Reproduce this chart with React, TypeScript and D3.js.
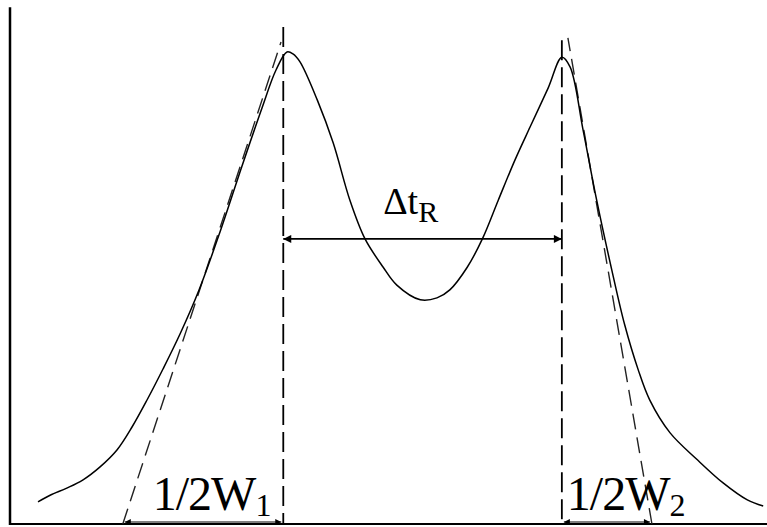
import React from "react";
import * as d3 from "d3";

// Chromatogram of two partially resolved peaks (arbitrary units)
const curveTime = [3.7, 5.3, 7.5, 9.6, 11.9, 14.13, 16.12, 18.1, 20.21, 22.46, 24.97, 27.74, 30.65, 33.29, 35.14, 36.59, 37.38, 38.31, 40.6, 42.7, 44.9, 46.9, 49.3, 51.1, 54.2, 56.4, 58.1, 60.4, 62.4, 64.5, 66.7, 68.7, 71.1, 72.9, 74.0, 75.7, 77.5, 79.5, 81.2, 83.0, 84.5, 87.2, 90.8, 94.2, 97.4, 99.5];
const curveSignal = [4.7, 6.1, 7.6, 9.3, 12.1, 15.68, 20.55, 26.27, 32.84, 40.25, 49.58, 61.86, 75.85, 88.14, 96.19, 100, 99.6, 97.9, 89.8, 80.7, 68.6, 60.4, 54.4, 50.6, 47.5, 47.9, 49.6, 54.4, 60.4, 68.6, 77.1, 84.1, 92.4, 98.9, 96.8, 83.5, 68.6, 53.8, 42.2, 32.6, 26.3, 19.3, 13.6, 8.7, 5.1, 3.8];

// Retention times and guide lines
const retentionTimes = [36.1, 72.9];
const retentionGuideTop = [105.3, 102.5];
// Tangent lines: baseline intercept time, apex time, apex signal
const tangentBase = [14.9, 84.8];
const tangentApexTime = [35.8, 73.7];
const tangentApexSignal = [102.1, 103];
const deltaArrowSignal = 60.4;
const halfWidthLabels = ["1", "2"];

const W = 767;
const H = 527;

export default function App() {
  const x = d3.scaleLinear().domain([0, 100]).range([10, 767]);
  const y = d3.scaleLinear().domain([0, 100]).range([524, 52]);

  const pts: [number, number][] = curveTime.map((t, i) => [t, curveSignal[i]]);
  const line = d3
    .line<[number, number]>()
    .x((d) => x(d[0]))
    .y((d) => y(d[1]))
    .curve(d3.curveCatmullRom.alpha(0.5));

  const serif = "Liberation Serif";

  return (
    <svg
      width={W}
      height={H}
      style={{ position: "absolute", left: 0, top: 0, background: "#fff" }}
    >
      <defs>
        <marker id="arrowEnd" viewBox="0 0 10 10" refX="10" refY="5" markerWidth="16" markerHeight="8" markerUnits="userSpaceOnUse" orient="auto">
          <path d="M0,0 L10,5 L0,10 z" fill="#000" />
        </marker>
        <marker id="arrowStart" viewBox="0 0 10 10" refX="0" refY="5" markerWidth="16" markerHeight="8" markerUnits="userSpaceOnUse" orient="auto">
          <path d="M10,0 L0,5 L10,10 z" fill="#000" />
        </marker>
        <marker id="smallEnd" viewBox="0 0 10 10" refX="10" refY="5" markerWidth="14" markerHeight="6" markerUnits="userSpaceOnUse" orient="auto">
          <path d="M0,0 L10,5 L0,10 z" fill="#000" />
        </marker>
        <marker id="smallStart" viewBox="0 0 10 10" refX="0" refY="5" markerWidth="14" markerHeight="6" markerUnits="userSpaceOnUse" orient="auto">
          <path d="M10,0 L0,5 L10,10 z" fill="#000" />
        </marker>
      </defs>

      {/* axes */}
      <line x1={x(0)} y1={y(109.5)} x2={x(0)} y2={y(0) + 1} stroke="#000" strokeWidth={2.5} />
      <line x1={x(0)} y1={y(0)} x2={x(100)} y2={y(0)} stroke="#000" strokeWidth={2} />

      {/* retention time guides */}
      {retentionTimes.map((t, i) => (
        <line key={"r" + i} x1={x(t)} y1={y(retentionGuideTop[i])} x2={x(t)} y2={y(0)} stroke="#000" strokeWidth={1.8} strokeDasharray="20,7" />
      ))}

      {/* tangents */}
      {tangentBase.map((t, i) => (
        <line key={"t" + i} x1={x(t)} y1={y(0)} x2={x(tangentApexTime[i])} y2={y(tangentApexSignal[i])} stroke="#222" strokeWidth={1.4} strokeDasharray="16,8" />
      ))}

      {/* chromatogram */}
      <path d={line(pts) ?? ""} fill="none" stroke="#000" strokeWidth={1.5} />

      {/* resolution arrow */}
      <line x1={x(retentionTimes[0])} y1={y(deltaArrowSignal)} x2={x(retentionTimes[1])} y2={y(deltaArrowSignal)} stroke="#000" strokeWidth={1.6} markerStart="url(#arrowStart)" markerEnd="url(#arrowEnd)" />
      <text x={x(49.3)} y={y(65.7)} fontFamily={serif} fontSize={38} fill="#000">
        Δt
        <tspan fontSize={30} dy={8}>R</tspan>
      </text>

      {/* half-width arrows and labels */}
      {halfWidthLabels.map((lab, i) => {
        const a = i === 0 ? x(tangentBase[0]) : x(retentionTimes[1]);
        const b = i === 0 ? x(retentionTimes[0]) : x(tangentBase[1]);
        return (
          <g key={"w" + i}>
            <line x1={a + 2} y1={y(0) - 2} x2={b - 2} y2={y(0) - 2} stroke="#000" strokeWidth={1.2} markerStart="url(#smallStart)" markerEnd="url(#smallEnd)" />
            <text x={i === 0 ? a + 30 : a + 5} y={y(0) - 14} fontFamily={serif} fontSize={48} fill="#000" letterSpacing={-1}>
              1/2W
              <tspan fontSize={32} dy={6}>{lab}</tspan>
            </text>
          </g>
        );
      })}
    </svg>
  );
}
